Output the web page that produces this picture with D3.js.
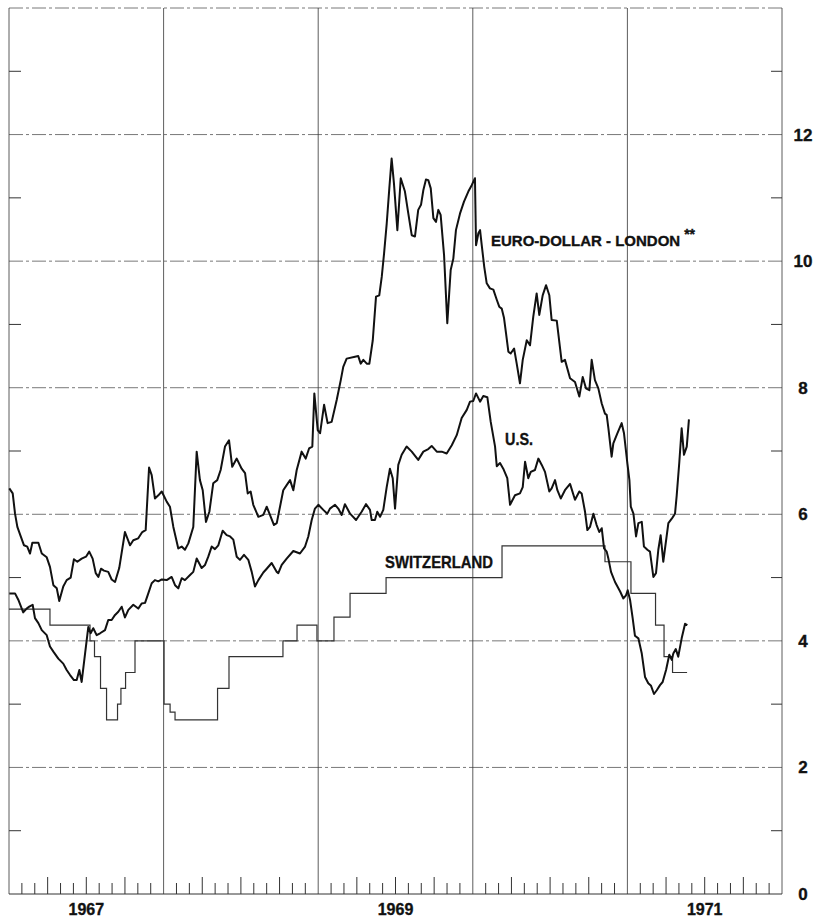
<!DOCTYPE html>
<html>

<head>
    <title>Short-term Interest Rates</title>
    <script src="https://d3js.org/d3.v7.min.js"></script>
    <style>
        body {
            margin: 0;
            background: #fff;
        }

        text {
            font-family: "Liberation Sans", Arial, sans-serif;
            font-weight: bold;
            fill: #111;
            stroke: #111;
            stroke-width: 0.35;
        }

        .grid-v {
            stroke: #333;
            stroke-width: 0.8;
        }

        .grid-h {
            stroke: #555;
            stroke-width: 0.8;
            stroke-dasharray: 14 3 3 3;
        }

        .tick {
            stroke: #333;
            stroke-width: 1;
        }
    </style>
</head>

<body>
    <svg width="818" height="920"></svg>

    <script>
        // weekly-ish readings, [year, percent]
        const euroDollar = [
            [1967.002, 6.41], [1967.024, 6.33], [1967.039, 6.01], [1967.054, 5.80], [1967.076, 5.65], [1967.097, 5.51],
            [1967.118, 5.49], [1967.136, 5.38], [1967.151, 5.55], [1967.190, 5.55], [1967.212, 5.38], [1967.244, 5.32],
            [1967.265, 5.17], [1967.287, 4.88], [1967.309, 4.83], [1967.325, 4.63], [1967.351, 4.86], [1967.373, 4.96],
            [1967.399, 5.00], [1967.420, 5.29], [1967.442, 5.25], [1967.470, 5.30], [1967.498, 5.33], [1967.519, 5.41],
            [1967.541, 5.30], [1967.561, 5.07], [1967.578, 5.01], [1967.595, 5.14], [1967.614, 5.11], [1967.642, 5.09],
            [1967.664, 4.97], [1967.686, 4.93], [1967.713, 5.15], [1967.750, 5.72], [1967.783, 5.51], [1967.804, 5.59],
            [1967.836, 5.62], [1967.862, 5.72], [1967.884, 5.75], [1967.906, 6.74], [1967.923, 6.62], [1967.944, 6.25],
            [1967.966, 6.30], [1967.988, 6.36], [1968.020, 6.20], [1968.041, 6.12], [1968.063, 5.80], [1968.095, 5.46],
            [1968.117, 5.49], [1968.138, 5.44], [1968.160, 5.54], [1968.192, 5.80], [1968.214, 6.99], [1968.235, 6.54],
            [1968.253, 6.38], [1968.274, 5.88], [1968.296, 6.04], [1968.321, 6.49], [1968.347, 6.54], [1968.369, 6.70],
            [1968.397, 7.07], [1968.423, 7.17], [1968.444, 6.75], [1968.473, 6.88], [1968.505, 6.72], [1968.527, 6.65],
            [1968.544, 6.33], [1968.563, 6.36], [1968.580, 6.15], [1968.613, 5.96], [1968.645, 5.99], [1968.667, 6.12],
            [1968.693, 5.96], [1968.714, 5.83], [1968.732, 5.86], [1968.753, 6.12], [1968.774, 6.38], [1968.796, 6.46],
            [1968.818, 6.54], [1968.839, 6.38], [1968.861, 6.70], [1968.893, 6.99], [1968.919, 6.88], [1968.941, 7.04],
            [1968.962, 7.07], [1968.975, 7.91], [1968.997, 7.33], [1969.012, 7.28], [1969.038, 7.73], [1969.061, 7.44],
            [1969.087, 7.46], [1969.120, 7.81], [1969.146, 8.12], [1969.162, 8.33], [1969.184, 8.46], [1969.238, 8.49],
            [1969.259, 8.50], [1969.275, 8.38], [1969.292, 8.44], [1969.314, 8.38], [1969.331, 8.38], [1969.353, 8.75],
            [1969.374, 9.44], [1969.395, 9.46], [1969.411, 9.75], [1969.426, 10.12], [1969.443, 10.59], [1969.460, 11.15],
            [1969.475, 11.62], [1969.490, 11.23], [1969.512, 10.49], [1969.534, 11.31], [1969.561, 11.10], [1969.583, 10.75],
            [1969.605, 10.41], [1969.626, 10.39], [1969.647, 10.81], [1969.665, 10.89], [1969.680, 11.12], [1969.697, 11.29],
            [1969.712, 11.28], [1969.728, 11.15], [1969.745, 10.68], [1969.762, 10.62], [1969.777, 10.81], [1969.792, 10.73],
            [1969.814, 10.10], [1969.835, 9.02], [1969.857, 9.86], [1969.874, 10.04], [1969.891, 10.49], [1969.917, 10.75],
            [1969.943, 10.94], [1969.971, 11.10], [1969.993, 11.20], [1970.014, 11.31], [1970.021, 10.25], [1970.036, 10.44],
            [1970.047, 10.49], [1970.058, 10.25], [1970.074, 9.91], [1970.090, 9.65], [1970.111, 9.57], [1970.133, 9.55],
            [1970.155, 9.39], [1970.171, 9.28], [1970.187, 9.25], [1970.202, 9.10], [1970.215, 8.86], [1970.230, 8.57],
            [1970.245, 8.54], [1970.267, 8.62], [1970.284, 8.38], [1970.305, 8.07], [1970.323, 8.44], [1970.349, 8.75],
            [1970.370, 8.67], [1970.391, 9.12], [1970.413, 9.49], [1970.430, 9.15], [1970.452, 9.46], [1970.474, 9.62],
            [1970.495, 9.46], [1970.510, 9.07], [1970.543, 9.06], [1970.575, 8.41], [1970.596, 8.44], [1970.629, 8.15],
            [1970.661, 8.09], [1970.689, 7.86], [1970.711, 8.17], [1970.732, 7.99], [1970.754, 7.96], [1970.769, 8.44],
            [1970.790, 8.12], [1970.812, 7.99], [1970.834, 7.75], [1970.855, 7.59], [1970.866, 7.57], [1970.877, 7.36],
            [1970.898, 6.91], [1970.909, 7.12], [1970.935, 7.28], [1970.963, 7.44], [1970.978, 7.28], [1971.000, 6.80],
            [1971.013, 6.54], [1971.022, 6.12], [1971.039, 6.01], [1971.056, 5.65], [1971.071, 5.86], [1971.093, 5.88],
            [1971.107, 5.49], [1971.129, 5.44], [1971.146, 5.41], [1971.168, 5.01], [1971.185, 5.07], [1971.200, 5.44],
            [1971.215, 5.67], [1971.232, 5.25], [1971.265, 5.86], [1971.287, 5.93], [1971.308, 6.01], [1971.319, 6.30],
            [1971.336, 6.83], [1971.351, 7.36], [1971.366, 6.94], [1971.384, 7.07], [1971.398, 7.50]
        ];

        const unitedStates = [
            [1967.002, 4.75], [1967.039, 4.75], [1967.060, 4.65], [1967.092, 4.45], [1967.114, 4.51], [1967.131, 4.54],
            [1967.153, 4.57], [1967.168, 4.36], [1967.190, 4.28], [1967.212, 4.17], [1967.244, 4.09], [1967.265, 3.91],
            [1967.287, 3.83], [1967.319, 3.72], [1967.351, 3.64], [1967.373, 3.54], [1967.395, 3.46], [1967.420, 3.38],
            [1967.438, 3.38], [1967.455, 3.54], [1967.470, 3.35], [1967.492, 3.80], [1967.513, 4.22], [1967.528, 4.12],
            [1967.545, 4.20], [1967.567, 4.09], [1967.589, 4.12], [1967.621, 4.17], [1967.642, 4.33], [1967.664, 4.33],
            [1967.686, 4.41], [1967.707, 4.46], [1967.729, 4.54], [1967.750, 4.37], [1967.772, 4.49], [1967.804, 4.57],
            [1967.836, 4.51], [1967.858, 4.59], [1967.880, 4.60], [1967.901, 4.75], [1967.923, 4.91], [1967.944, 4.96],
            [1967.966, 4.94], [1967.988, 4.97], [1968.020, 4.96], [1968.052, 5.01], [1968.074, 4.88], [1968.095, 4.83],
            [1968.117, 4.99], [1968.138, 4.96], [1968.171, 5.04], [1968.192, 5.09], [1968.214, 5.30], [1968.246, 5.15],
            [1968.268, 5.20], [1968.289, 5.33], [1968.311, 5.49], [1968.332, 5.45], [1968.354, 5.51], [1968.382, 5.74],
            [1968.408, 5.67], [1968.430, 5.65], [1968.451, 5.60], [1968.473, 5.33], [1968.494, 5.28], [1968.520, 5.36],
            [1968.548, 5.28], [1968.570, 5.09], [1968.591, 4.86], [1968.613, 4.96], [1968.645, 5.08], [1968.667, 5.14],
            [1968.699, 5.23], [1968.732, 5.09], [1968.742, 5.07], [1968.764, 5.20], [1968.796, 5.30], [1968.839, 5.42],
            [1968.882, 5.38], [1968.915, 5.49], [1968.936, 5.65], [1968.958, 5.91], [1968.979, 6.09], [1969.001, 6.15],
            [1969.033, 6.07], [1969.059, 6.01], [1969.076, 6.09], [1969.109, 6.15], [1969.130, 6.09], [1969.152, 5.99],
            [1969.173, 6.16], [1969.206, 6.01], [1969.245, 5.91], [1969.281, 6.04], [1969.309, 6.16], [1969.335, 6.07],
            [1969.346, 5.91], [1969.367, 5.91], [1969.382, 6.04], [1969.400, 5.96], [1969.421, 6.07], [1969.443, 6.43],
            [1969.464, 6.72], [1969.482, 6.57], [1969.497, 6.09], [1969.518, 6.78], [1969.540, 6.94], [1969.572, 7.07],
            [1969.605, 6.99], [1969.647, 6.86], [1969.680, 6.99], [1969.712, 7.03], [1969.734, 7.08], [1969.767, 6.99],
            [1969.799, 6.99], [1969.831, 6.96], [1969.864, 7.09], [1969.896, 7.25], [1969.928, 7.52], [1969.961, 7.65],
            [1969.982, 7.78], [1970.003, 7.79], [1970.021, 7.91], [1970.047, 7.78], [1970.068, 7.87], [1970.094, 7.85],
            [1970.116, 7.46], [1970.144, 7.07], [1970.155, 6.76], [1970.176, 6.81], [1970.197, 6.72], [1970.223, 6.57],
            [1970.241, 6.15], [1970.273, 6.30], [1970.305, 6.33], [1970.323, 6.43], [1970.338, 6.83], [1970.359, 6.57],
            [1970.375, 6.67], [1970.402, 6.70], [1970.424, 6.88], [1970.446, 6.78], [1970.467, 6.67], [1970.495, 6.36],
            [1970.510, 6.41], [1970.532, 6.54], [1970.547, 6.38], [1970.569, 6.25], [1970.596, 6.38], [1970.629, 6.48],
            [1970.661, 6.23], [1970.689, 6.36], [1970.704, 6.33], [1970.726, 6.04], [1970.741, 5.75], [1970.758, 5.80],
            [1970.780, 6.01], [1970.801, 5.83], [1970.818, 5.72], [1970.834, 5.78], [1970.849, 5.46], [1970.866, 5.41],
            [1970.877, 5.30], [1970.894, 5.09], [1970.920, 4.93], [1970.953, 4.78], [1970.974, 4.67], [1970.991, 4.72],
            [1971.002, 4.80], [1971.017, 4.65], [1971.034, 4.36], [1971.049, 4.08], [1971.071, 4.04], [1971.093, 3.80],
            [1971.114, 3.43], [1971.135, 3.33], [1971.153, 3.29], [1971.172, 3.16], [1971.190, 3.22], [1971.211, 3.30],
            [1971.228, 3.35], [1971.250, 3.54], [1971.271, 3.78], [1971.287, 3.70], [1971.297, 3.80], [1971.313, 3.87],
            [1971.329, 3.75], [1971.351, 4.04], [1971.373, 4.27], [1971.388, 4.25]
        ];

        // step series: each rate holds until the next change
        const switzerland = [
            [1967.000, 4.50], [1967.265, 4.25], [1967.524, 4.00], [1967.553, 3.75], [1967.592, 3.25], [1967.631, 2.75],
            [1967.702, 3.00], [1967.724, 3.25], [1967.754, 3.50], [1967.815, 4.00], [1968.003, 3.00], [1968.042, 2.875],
            [1968.074, 2.75], [1968.349, 3.25], [1968.423, 3.75], [1968.772, 4.00], [1968.863, 4.25], [1968.992, 4.00],
            [1969.102, 4.375], [1969.206, 4.75], [1969.439, 5.00], [1970.189, 5.50], [1970.855, 5.25], [1971.023, 4.75],
            [1971.182, 4.25], [1971.237, 3.75], [1971.292, 3.50], [1971.386, 3.50]
        ];

        const yearLabels = [1967, 1969, 1971];
        const rateLabels = [0, 2, 4, 6, 8, 10, 12];

        const svg = d3.select("svg");

        const x = d3.scaleLinear().domain([1967, 1972]).range([9, 782]);
        const y = d3.scaleLinear().domain([0, 14]).range([894, 8]);

        // horizontal dashed grid
        svg.append("g")
            .selectAll("line")
            .data(d3.range(2, 15, 2))
            .join("line")
            .attr("class", "grid-h")
            .attr("x1", x(1967))
            .attr("x2", x(1972))
            .attr("y1", d => y(d))
            .attr("y2", d => y(d));

        // vertical year lines, borders included
        svg.append("g")
            .selectAll("line")
            .data(d3.range(1967, 1973))
            .join("line")
            .attr("class", "grid-v")
            .attr("x1", d => x(d))
            .attr("x2", d => x(d))
            .attr("y1", y(14))
            .attr("y2", y(0));

        // bottom axis line
        svg.append("line")
            .attr("class", "tick")
            .attr("x1", x(1967)).attr("x2", x(1972))
            .attr("y1", y(0)).attr("y2", y(0));

        // monthly ticks, longer each quarter
        const months = d3.range(0, 60).filter(m => m % 12 !== 0);
        svg.append("g")
            .selectAll("line")
            .data(months)
            .join("line")
            .attr("class", "tick")
            .attr("x1", m => x(1967 + m / 12))
            .attr("x2", m => x(1967 + m / 12))
            .attr("y1", y(0))
            .attr("y2", m => y(0) - (m % 3 === 0 ? 17 : 11));

        // odd-value ticks on both sides
        const oddVals = d3.range(1, 14, 2);
        svg.append("g")
            .selectAll("line")
            .data(oddVals)
            .join("line")
            .attr("class", "tick")
            .attr("x1", x(1967)).attr("x2", x(1967) + 12)
            .attr("y1", d => y(d)).attr("y2", d => y(d));
        svg.append("g")
            .selectAll("line")
            .data(oddVals)
            .join("line")
            .attr("class", "tick")
            .attr("x1", x(1972) - 11).attr("x2", x(1972))
            .attr("y1", d => y(d)).attr("y2", d => y(d));

        // right-hand value labels
        svg.append("g")
            .selectAll("text")
            .data(rateLabels)
            .join("text")
            .attr("x", x(1972) + 21)
            .attr("y", d => y(d) + 6)
            .attr("text-anchor", "middle")
            .attr("font-size", 17)
            .text(d => d);

        // year labels centred in their year
        svg.append("g")
            .selectAll("text")
            .data(yearLabels)
            .join("text")
            .attr("x", d => x(d + 0.5))
            .attr("y", 915)
            .attr("text-anchor", "middle")
            .attr("font-size", 16)
            .text(d => d);

        const line = d3.line()
            .x(d => x(d[0]))
            .y(d => y(d[1]));

        svg.append("path")
            .datum(switzerland)
            .attr("fill", "none")
            .attr("stroke", "#333")
            .attr("stroke-width", 1.2)
            .attr("d", line.curve(d3.curveStepAfter));

        const heavy = d3.line()
            .x(d => x(d[0]))
            .y(d => y(d[1]));

        [euroDollar, unitedStates].forEach(series => {
            svg.append("path")
                .datum(series)
                .attr("fill", "none")
                .attr("stroke", "#111")
                .attr("stroke-width", 2)
                .attr("stroke-linejoin", "round")
                .attr("d", heavy);
        });

        // series labels
        const euroLabel = svg.append("text")
            .attr("x", 491).attr("y", 246)
            .attr("font-size", 15);
        euroLabel.append("tspan").text("EURO-DOLLAR - LONDON");
        euroLabel.append("tspan")
            .attr("dx", 4).attr("dy", -7)
            .attr("font-size", 14)
            .text("**");

        svg.append("text")
            .attr("x", 505).attr("y", 445)
            .attr("font-size", 16)
            .attr("textLength", 28)
            .attr("lengthAdjust", "spacingAndGlyphs")
            .text("U.S.");
        svg.append("text")
            .attr("x", 385).attr("y", 568)
            .attr("font-size", 17)
            .attr("textLength", 108)
            .attr("lengthAdjust", "spacingAndGlyphs")
            .text("SWITZERLAND");
    </script>

</body>

</html>
